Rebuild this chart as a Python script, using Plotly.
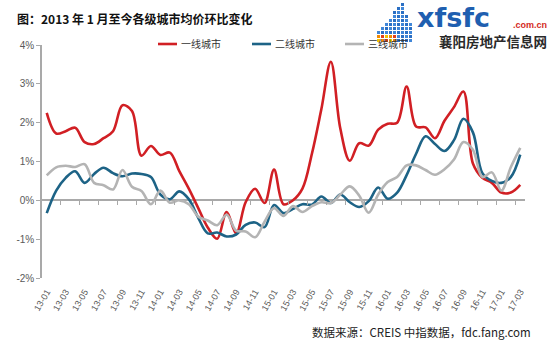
import plotly.graph_objects as go

months = [
    "13-01","13-02","13-03","13-04","13-05","13-06","13-07","13-08","13-09","13-10","13-11","13-12",
    "14-01","14-02","14-03","14-04","14-05","14-06","14-07","14-08","14-09","14-10","14-11","14-12",
    "15-01","15-02","15-03","15-04","15-05","15-06","15-07","15-08","15-09","15-10","15-11","15-12",
    "16-01","16-02","16-03","16-04","16-05","16-06","16-07","16-08","16-09","16-10","16-11","16-12",
    "17-01","17-02","17-03",
]

tier1 = [2.25, 1.72, 1.78, 1.87, 1.50, 1.45, 1.60, 1.78, 2.45, 2.30,
         1.15, 1.40, 1.17, 1.23, 0.75, 0.30, -0.20, -0.70, -0.99, -0.30,
         -0.85, -0.05, 0.30, -0.07, 0.79, -0.10, 0.00, 0.30, 1.20, 2.35,
         3.57, 1.85, 1.02, 1.47, 1.41, 1.82, 1.97, 2.00, 2.93, 1.90,
         1.88, 1.60, 2.05, 2.40, 2.80, 0.95, 0.58, 0.45, 0.20, 0.20, 0.40]

tier2 = [-0.33, 0.25, 0.58, 0.75, 0.45, 0.68, 0.84, 0.70, 0.62, 0.69,
         0.68, 0.60, 0.15, 0.03, 0.23, 0.03, -0.45, -0.85, -0.83, -0.93,
         -0.88, -0.63, -0.57, -0.69, -0.12, -0.33, -0.22, -0.10, -0.11, 0.10,
         -0.07, 0.15, -0.05, -0.17, -0.02, 0.33, 0.04, 0.20, 0.65, 1.20,
         1.65, 1.45, 1.27, 1.55, 2.10, 1.75, 0.70, 0.50, 0.45, 0.60, 1.18]

tier3 = [0.64, 0.85, 0.89, 0.86, 0.93, 0.45, 0.39, 0.28, 0.78, 0.35,
         0.24, -0.10, 0.25, -0.06, 0.00, -0.10, -0.42, -0.52, -0.64, -0.37,
         -0.78, -0.80, -0.95, -0.55, -0.20, -0.40, -0.15, -0.30, -0.15, -0.05,
         -0.07, 0.15, 0.36, 0.12, -0.32, 0.15, 0.47, 0.60, 0.90, 0.90,
         0.78, 0.66, 0.80, 1.05, 1.50, 1.30, 0.60, 0.72, 0.25, 0.85, 1.35]

series_names = ["一线城市", "二线城市", "三线城市"]
series_colors = ["#d11f24", "#1d6386", "#b4b4b4"]
y_tick_vals = [-2, -1, 0, 1, 2, 3, 4]
y_tick_text = ["-2%", "-1%", "0%", "1%", "2%", "3%", "4%"]

title_text = "图：2013 年 1 月至今各级城市均价环比变化"
source_text = "数据来源：CREIS 中指数据，fdc.fang.com"

idx = list(range(len(months)))
tick_idx = idx[::2]
tick_lbl = months[::2]
bound_idx = [i + 1.5 for i in idx[::2] if i + 1.5 < len(months) - 0.5]

fig = go.Figure()
for name, vals, col in zip(series_names, [tier1, tier2, tier3], series_colors):
    fig.add_trace(go.Scatter(
        x=idx, y=vals, mode="lines", name=name,
        line=dict(color=col, width=2.6, shape="spline", smoothing=1.0),
        showlegend=False, hoverinfo="skip"))
# dummy trace for the tick-mark axis at zero
fig.add_trace(go.Scatter(x=[0], y=[None], xaxis="x2", showlegend=False, hoverinfo="skip"))

axis_gray = "#a9a9a9"
label_col = "#595959"
CJK = "Noto Sans CJK SC"

fig.update_layout(
    width=550, height=350,
    margin=dict(l=42, r=25, t=45, b=72),
    paper_bgcolor="white", plot_bgcolor="white",
    font=dict(family="Liberation Sans, " + CJK, color=label_col),
    xaxis=dict(range=[-0.5, len(months) - 0.5], tickmode="array", tickvals=tick_idx, ticktext=tick_lbl,
               tickangle=-60, tickfont=dict(size=9, color=label_col), showgrid=False, zeroline=False,
               showline=False, ticks="", ticklabelstandoff=6),
    xaxis2=dict(range=[-0.5, len(months) - 0.5], overlaying="x", anchor="free", position=1/3,
                tickmode="array", tickvals=bound_idx, ticks="outside", ticklen=4, tickwidth=1.2,
                tickcolor=axis_gray, showticklabels=False, showgrid=False, zeroline=False, showline=False),
    yaxis=dict(range=[-2, 4], domain=[0, 1], tickmode="array", tickvals=y_tick_vals, ticktext=y_tick_text,
               tickfont=dict(size=10, color=label_col), showgrid=False, zeroline=True,
               zerolinecolor=axis_gray, zerolinewidth=2, showline=True, linecolor=axis_gray, linewidth=1.5,
               ticks="outside", ticklen=4, tickcolor=axis_gray),
    title=dict(text=title_text, x=17/550, xref="container", xanchor="left",
               y=1-20/350, yref="container", yanchor="middle",
               font=dict(family=CJK, size=12, color="#111111", weight="bold")),
)

# manual legend
W, H = 483.0, 233.0
def px(x): return (x - 42) / W
def py(y): return (278 - y) / H
leg_x = [158, 252, 345]
for name, col, lx in zip(series_names, series_colors, leg_x):
    fig.add_shape(type="line", xref="paper", yref="paper", x0=px(lx), x1=px(lx + 19),
                  y0=py(44), y1=py(44), line=dict(color=col, width=2.6))
    fig.add_annotation(text=name, xref="paper", yref="paper", x=px(lx + 21), y=py(44),
                       xanchor="left", yanchor="middle", showarrow=False,
                       font=dict(family=CJK, size=10, color="#333333"))

# source note
fig.add_annotation(text=source_text, xref="paper", yref="paper", x=px(533), y=py(332),
                   xanchor="right", yanchor="middle", showarrow=False,
                   font=dict(family="Liberation Sans Narrow, " + CJK, size=11.5, color="#222222"))

# watermark logo (text + pixel icon)
fig.add_annotation(text="<b>xfsfc</b>", xref="paper", yref="paper", x=px(416), y=py(17),
                   xanchor="left", yanchor="middle", showarrow=False, borderpad=0,
                   font=dict(family="DejaVu Sans", size=27, color="#1f5fb0"))
fig.add_annotation(text="<b>.com.cn</b>", xref="paper", yref="paper", x=px(548), y=py(25),
                   xanchor="right", yanchor="middle", showarrow=False, borderpad=0,
                   font=dict(family="Liberation Sans", size=9, color="#d42a1e"))
fig.add_annotation(text="<b>襄阳房地产信息网</b>", xref="paper", yref="paper", x=px(548), y=py(41),
                   xanchor="right", yanchor="middle", showarrow=False, borderpad=0,
                   font=dict(family=CJK, size=13.5, color="#2a2a2a"))

col_heights = [3, 4, 5, 6, 8, 9, 10, 7, 5]
for c, hgt in enumerate(col_heights):
    for r in range(hgt):
        x0 = 377 + c * 4
        y1 = 42 - r * 4
        if r < 2 and c < 5:
            colr = ["#f2c200", "#f08a00", "#e0401a"][(c + r) % 3]
        else:
            colr = "#2a6fc4" if (c + r) % 2 else "#3f86d8"
        fig.add_shape(type="rect", xref="paper", yref="paper", x0=px(x0), x1=px(x0 + 3),
                      y0=py(y1), y1=py(y1 - 3), line=dict(width=0), fillcolor=colr)

fig.write_html("out.html")
